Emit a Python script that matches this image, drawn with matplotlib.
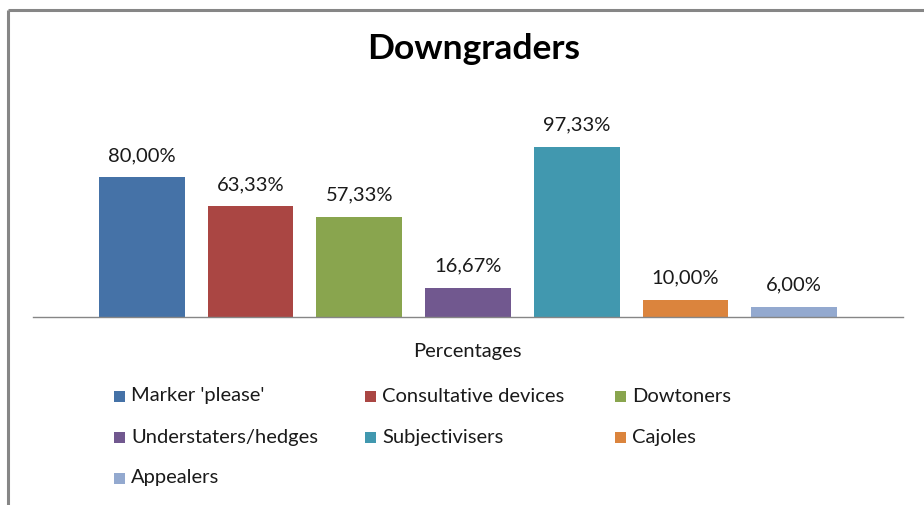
import matplotlib
matplotlib.use("Agg")
import matplotlib.pyplot as plt
from matplotlib.patches import Rectangle
from matplotlib.lines import Line2D

plt.rcParams['font.family'] = ['Lato', 'DejaVu Sans']

categories = ["Marker 'please'", "Consultative devices", "Dowtoners",
              "Understaters/hedges", "Subjectivisers", "Cajoles", "Appealers"]
values = [80.00, 63.33, 57.33, 16.67, 97.33, 10.00, 6.00]
colors = ["#4572A7", "#AA4643", "#89A54E", "#71588F", "#4198AF", "#DB843D", "#93A9CF"]

W, H = 924, 505
fig = plt.figure(figsize=(W / 100, H / 100), dpi=100)
fig.patch.set_facecolor("white")

ax = fig.add_axes([33 / W, (H - 317) / H, 870 / W, 210 / H])
x = list(range(len(values)))
ax.bar(x, values, width=0.79, color=colors, zorder=2)
for xi, v in zip(x, values):
    ax.annotate(f"{v:.2f}".replace(".", ",") + "%", (xi, v), xytext=(0, 11.5),
                textcoords="offset points", ha="center", va="baseline",
                fontsize=14.5, color="#1a1a1a")
ax.set_xlim(-1, len(values))
ax.set_ylim(0, 120)
for s in ["top", "right", "left"]:
    ax.spines[s].set_visible(False)
ax.spines["bottom"].set_color("#868686")
ax.spines["bottom"].set_linewidth(1.0)
ax.set_xticks([])
ax.set_yticks([])

fig.text(474 / W, 1 - 49 / H, "Downgraders", ha="center", va="center",
         fontsize=25.5, fontweight="bold", color="black")
fig.text(467.5 / W, 1 - 352 / H, "Percentages", ha="center", va="center",
         fontsize=14.5, color="#1a1a1a")

# legend
col_x = [114, 365, 615]
row_y = [396, 437, 478]
sq = 11
for i, (lab, c) in enumerate(zip(categories, colors)):
    r, cidx = divmod(i, 3)
    x0, y0 = col_x[cidx], row_y[r]
    fig.patches.append(Rectangle((x0 / W, 1 - (y0 + sq / 2) / H), sq / W, sq / H,
                                 transform=fig.transFigure, facecolor=c, edgecolor="none"))
    fig.text((x0 + sq + 6) / W, 1 - y0 / H, lab, ha="left", va="center",
             fontsize=14.5, color="#1a1a1a")

# frame
fig.add_artist(Line2D([8 / W, 8 / W], [0, 1 - 10 / H], transform=fig.transFigure,
                      color="#868686", linewidth=2.2, solid_capstyle="butt"))
fig.add_artist(Line2D([8 / W, 1], [1 - 10 / H, 1 - 10 / H], transform=fig.transFigure,
                      color="#868686", linewidth=2.2, solid_capstyle="butt"))

fig.savefig("out.png", dpi=100)
